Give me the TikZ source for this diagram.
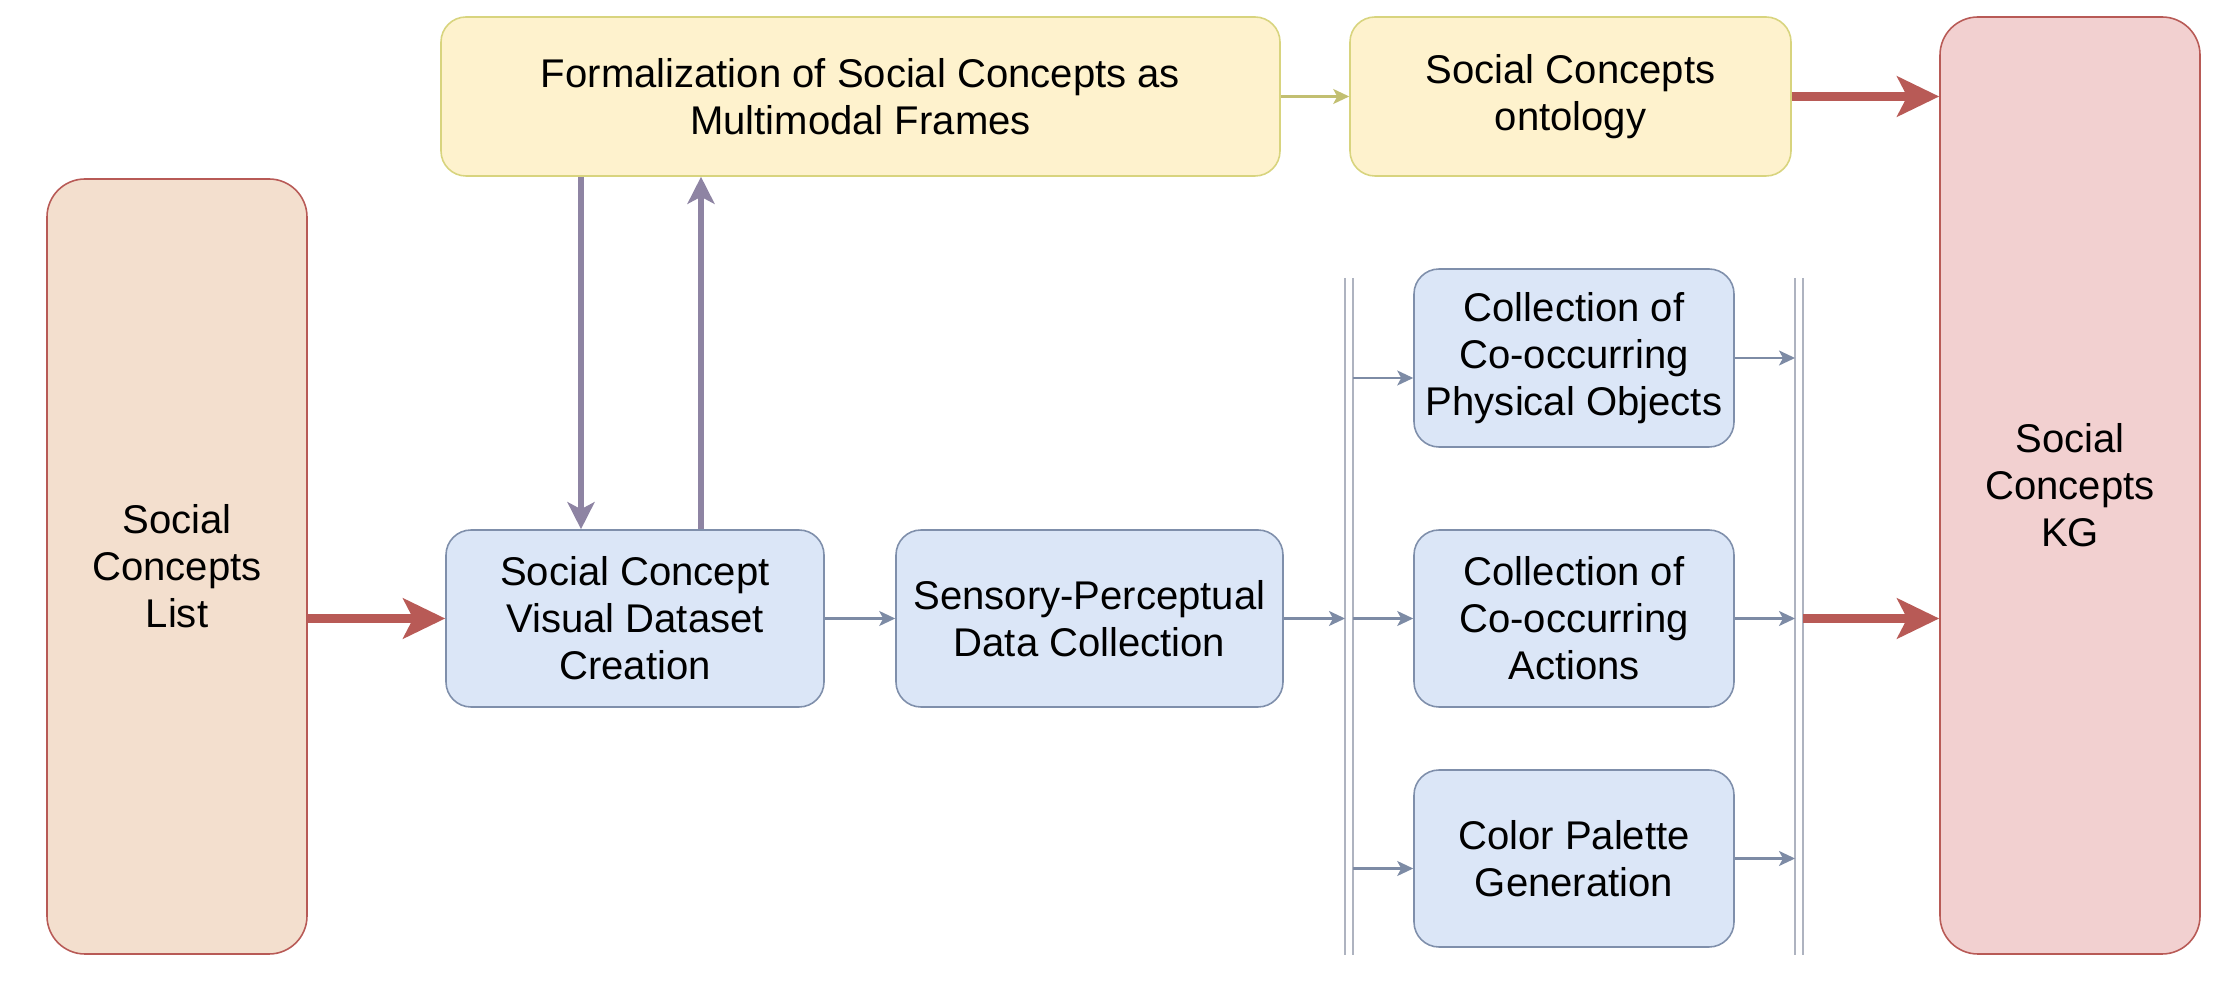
\documentclass[tikz,border=0pt]{standalone}
\usepackage{fontspec}
\setmainfont{Liberation Sans}
\usetikzlibrary{arrows.meta}

\definecolor{ylwfill}{HTML}{FEF2CD}
\definecolor{ylwline}{HTML}{D8D47E}
\definecolor{bluefill}{HTML}{DBE6F7}
\definecolor{blueline}{HTML}{7F8FAB}
\definecolor{listfill}{HTML}{F3DFCE}
\definecolor{kgfill}{HTML}{F2D0D0}
\definecolor{redline}{HTML}{B85A56}
\definecolor{purpleline}{HTML}{8E84A3}
\definecolor{flowline}{HTML}{7D8BA5}
\definecolor{barline}{HTML}{AEB3C0}

\begin{document}
\begin{tikzpicture}
\tikzstyle{block} = [draw, line width=0.45pt, align=center, inner sep=0pt,
  font=\fontsize{11.4}{13.4}\selectfont]
\tikzstyle{framebox} = [block, rounded corners=0.25cm, fill=ylwfill, draw=ylwline, minimum height=1.59cm]
\tikzstyle{stepbox} = [block, rounded corners=0.25cm, fill=bluefill, draw=blueline, minimum height=1.77cm]
\tikzstyle{tallbox} = [block, rounded corners=0.38cm, draw=redline]
\tikzstyle{flow} = [-{Stealth[length=0.16cm, width=0.15cm, inset=0.04cm]}, draw=flowline, line width=0.6pt]
\tikzstyle{feedback} = [-{Stealth[length=0.27cm, width=0.27cm, inset=0.07cm]}, draw=purpleline, line width=1.6pt]
\tikzstyle{bigflow} = [-{Stealth[length=0.42cm, width=0.40cm, inset=0.1cm]}, draw=redline, line width=2.8pt]
\tikzstyle{bar} = [draw=barline, line width=0.45pt]
\useasboundingbox (0,0) rectangle (22.4,-9.88);

% input and output
\node[tallbox, fill=listfill, minimum width=2.6cm, minimum height=7.75cm] (list) at (1.77,-5.665) {Social\\Concepts\\List};
\node[tallbox, fill=kgfill, minimum width=2.6cm, minimum height=9.37cm] (kg) at (20.70,-4.855) {Social\\Concepts\\KG};

% ontology row
\node[framebox, minimum width=8.39cm] (form) at (8.605,-0.965) {Formalization of Social Concepts as\\Multimodal Frames};
\node[framebox, minimum width=4.41cm] (onto) at (15.705,-0.965) {Social Concepts\\ontology};

% data row
\node[stepbox, minimum width=3.78cm] (vis) at (6.35,-6.185) {Social Concept\\Visual Dataset\\Creation};
\node[stepbox, minimum width=3.87cm] (sens) at (10.895,-6.185) {Sensory-Perceptual\\Data Collection};
\node[stepbox, minimum width=3.20cm, minimum height=1.78cm] (phys) at (15.74,-3.58) {Collection of\\Co-occurring\\Physical Objects};
\node[stepbox, minimum width=3.20cm] (act) at (15.74,-6.185) {Collection of\\Co-occurring\\Actions};
\node[stepbox, minimum width=3.20cm] (col) at (15.74,-8.585) {Color Palette\\Generation};

% fork and join bars
\coordinate (forkA) at (13.45,-2.78);
\coordinate (forkB) at (13.53,-2.78);
\coordinate (joinA) at (17.95,-2.78);
\coordinate (joinB) at (18.03,-2.78);
\draw[bar] (forkA) -- ++(0,-6.77);
\draw[bar] (forkB) -- ++(0,-6.77);
\draw[bar] (joinA) -- ++(0,-6.77);
\draw[bar] (joinB) -- ++(0,-6.77);

% connectors
\draw[bigflow] (list.east |- vis.west) -- (vis.west);
\draw[bigflow] (onto.east) -- (onto.east -| kg.west);
\draw[bigflow] (joinB |- act.east) -- (act.east -| kg.west);
\draw[-{Stealth[length=0.16cm, width=0.15cm, inset=0.04cm]}, draw=ylwline!90!black, line width=0.6pt] (form.east) -- (onto.west);
\draw[feedback] ([xshift=-0.54cm]vis.north |- form.south) -- ([xshift=-0.54cm]vis.north);
\draw[feedback] ([xshift=0.66cm]vis.north) -- ([xshift=0.66cm]vis.north |- form.south);
\draw[flow] (vis.east) -- (sens.west);
\draw[flow] (sens.east) -- (sens.east -| forkA);
\draw[flow] ([yshift=-0.2cm]phys.west -| forkB) -- ([yshift=-0.2cm]phys.west);
\draw[flow] (act.west -| forkB) -- (act.west);
\draw[flow] ([yshift=-0.1cm]col.west -| forkB) -- ([yshift=-0.1cm]col.west);
\draw[flow] (phys.east) -- (phys.east -| joinA);
\draw[flow] (act.east) -- (act.east -| joinA);
\draw[flow] (col.east) -- (col.east -| joinA);
\end{tikzpicture}
\end{document}
